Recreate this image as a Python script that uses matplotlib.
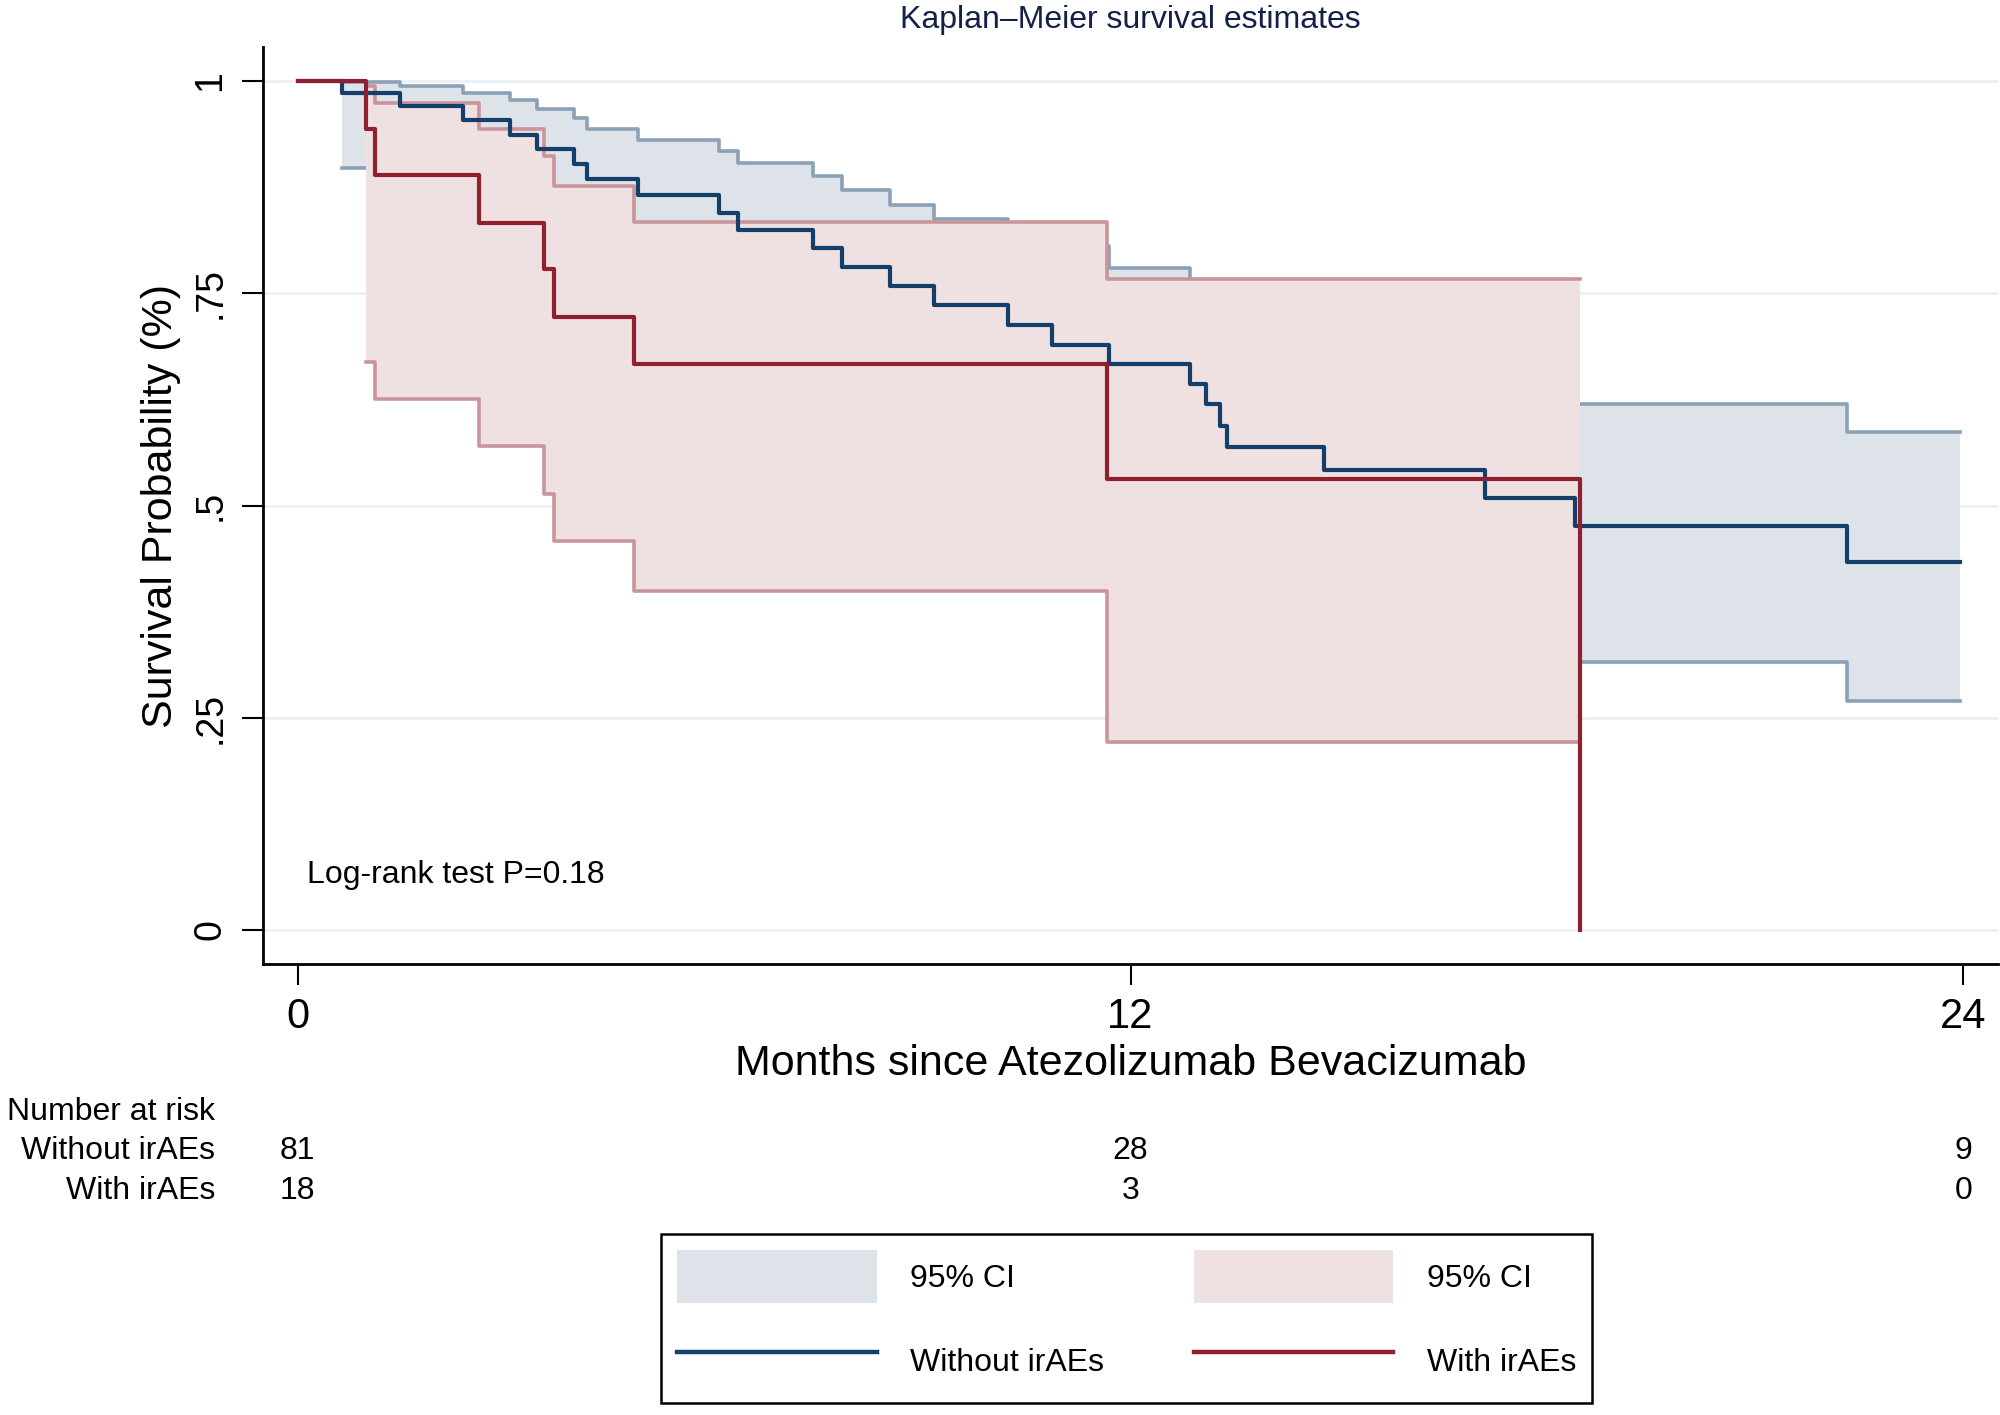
import matplotlib.pyplot as plt
from matplotlib.patches import Patch
from matplotlib.lines import Line2D
from matplotlib import transforms

plt.rcParams['font.family'] = ['Liberation Sans', 'DejaVu Sans']

# Kaplan-Meier estimate, patients without irAEs (months, survival)
t_wo = [0, 0.64, 1.47, 2.38, 3.06, 3.45, 3.98, 4.17, 4.91, 6.07, 6.34, 7.43, 7.84,
        8.53, 9.17, 10.24, 10.87, 11.69, 12.86, 13.09, 13.29, 13.39, 14.79, 17.11,
        18.40, 22.33, 23.95]
s_wo = [1, 0.986, 0.970, 0.954, 0.936, 0.920, 0.902, 0.884, 0.866, 0.845, 0.825,
        0.803, 0.781, 0.758, 0.736, 0.713, 0.689, 0.667, 0.643, 0.619, 0.594, 0.569,
        0.542, 0.509, 0.476, 0.433, 0.433]
# 95% CI, without irAEs (parts hidden under the red band are estimated)
ci_t_wo = t_wo[1:]
hi_wo = [0.999, 0.994, 0.986, 0.978, 0.967, 0.956, 0.944, 0.931, 0.918, 0.903, 0.888,
         0.871, 0.854, 0.837, 0.826, 0.806, 0.780, 0.760, 0.740, 0.720, 0.700, 0.676,
         0.648, 0.619, 0.586, 0.586]
lo_wo = [0.898, 0.885, 0.868, 0.848, 0.830, 0.810, 0.790, 0.770, 0.748, 0.726, 0.702,
         0.678, 0.654, 0.630, 0.606, 0.580, 0.556, 0.532, 0.507, 0.482, 0.456, 0.428,
         0.394, 0.316, 0.270, 0.270]

# Kaplan-Meier estimate, patients with irAEs
t_w = [0, 0.98, 1.12, 2.61, 3.55, 3.69, 4.84, 11.66, 18.48]
s_w = [1, 0.944, 0.889, 0.833, 0.778, 0.722, 0.667, 0.531, 0.0]
ci_t_w = [0.98, 1.12, 2.61, 3.55, 3.69, 4.84, 11.66, 18.48]
hi_w = [0.994, 0.974, 0.944, 0.912, 0.876, 0.834, 0.767, 0.767]
lo_w = [0.669, 0.626, 0.570, 0.513, 0.458, 0.399, 0.222, 0.222]

# number at risk table
risk_times = [0, 12, 24]
risk_wo = [81, 28, 9]
risk_w = [18, 3, 0]
groups = ['Without irAEs', 'With irAEs']

x_ticks = [0, 12, 24]
y_ticks = [0, 0.25, 0.5, 0.75, 1]
y_ticklabels = ['0', '.25', '.5', '.75', '1']

blue = '#143f6b'
red = '#8e2030'
blue_fill = '#dee3ea'
blue_edge = '#8aa1b6'
red_fill = '#efe1e2'
red_edge = '#c9959a'
grid_c = '#e8f0f1'

W, H = 2000, 1415
fig = plt.figure(figsize=(20, 14.15), dpi=100)
ax = fig.add_axes([263 / W, 1 - 964 / H, (1998 - 263) / W, (964 - 47) / H])

# confidence bands (red drawn over blue, like the original)
ax.fill_between(ci_t_wo, lo_wo, hi_wo, step='post', color=blue_fill, lw=0, zorder=1)
ax.step(ci_t_wo, hi_wo, where='post', color=blue_edge, lw=2.6, zorder=2)
ax.step(ci_t_wo, lo_wo, where='post', color=blue_edge, lw=2.6, zorder=2)
ax.fill_between(ci_t_w, lo_w, hi_w, step='post', color=red_fill, lw=0, zorder=3)
ax.step(ci_t_w, hi_w, where='post', color=red_edge, lw=2.6, zorder=4)
ax.step(ci_t_w, lo_w, where='post', color=red_edge, lw=2.6, zorder=4)

# survival curves
ax.step(t_wo, s_wo, where='post', color=blue, lw=3, zorder=5)
ax.step(t_w, s_w, where='post', color=red, lw=3, zorder=6)

ax.set_xlim(-0.5, 24.5)
ax.set_ylim(-0.04, 1.04)
ax.set_xticks(x_ticks)
ax.set_yticks(y_ticks)
ax.set_yticklabels(y_ticklabels)
ax.grid(axis='y', color=grid_c, lw=1.8)
ax.set_axisbelow(True)

for s in ['top', 'right']:
    ax.spines[s].set_visible(False)
for s in ['left', 'bottom']:
    ax.spines[s].set_linewidth(2)

ax.tick_params(axis='both', direction='out', length=15, width=1.5, color='black')
ax.tick_params(axis='x', labelsize=30, pad=9)
ax.tick_params(axis='y', labelsize=27, pad=10, labelrotation=90)
for lab in ax.get_yticklabels():
    lab.set_va('center')

ax.set_xlabel('Months since Atezolizumab Bevacizumab', fontsize=31)
ax.xaxis.set_label_coords(0.5, (964 - 1064) / 917)
ax.xaxis.label.set_va('center')
ax.set_ylabel('Survival Probability (%)', fontsize=31)
ax.yaxis.set_label_coords((161 - 263) / 1735, 0.5)
ax.yaxis.label.set_va('center')

fig.text(1130 / W, 1 - 20 / H, 'Kaplan\u2013Meier survival estimates', ha='center',
         va='center', fontsize=23, color='#13204a')

ax.text(0.13, 0.065, 'Log-rank test P=0.18', fontsize=23, va='center')

# number at risk
trans = transforms.blended_transform_factory(ax.transData, fig.transFigure)
fig.text(215 / W, 1 - 1112 / H, 'Number at risk', ha='right', va='center', fontsize=23)
for row_y, name, counts in zip([1151, 1191], groups, [risk_wo, risk_w]):
    fig.text(215 / W, 1 - row_y / H, name, ha='right', va='center', fontsize=23)
    for t, n in zip(risk_times, counts):
        ax.text(t, 1 - row_y / H, str(n), transform=trans, ha='center', va='center',
                fontsize=23)

# legend
handles = [Patch(facecolor=blue_fill, edgecolor='none'),
           Line2D([], [], color=blue, lw=3.2),
           Patch(facecolor=red_fill, edgecolor='none'),
           Line2D([], [], color=red, lw=3.2)]
labels = ['95% CI', 'Without irAEs', '95% CI', 'With irAEs']
leg = fig.legend(handles, labels, ncol=2, loc='upper left',
                 bbox_to_anchor=(661 / W, 1 - 1234 / H), borderaxespad=0,
                 fontsize=23, handlelength=6.25, handleheight=2.2, handletextpad=1.05,
                 labelspacing=0.95, columnspacing=2.8, borderpad=0.5,
                 frameon=True, fancybox=False, edgecolor='black', framealpha=1)
leg.get_frame().set_linewidth(1.8)

fig.savefig('out.png', dpi=100)
